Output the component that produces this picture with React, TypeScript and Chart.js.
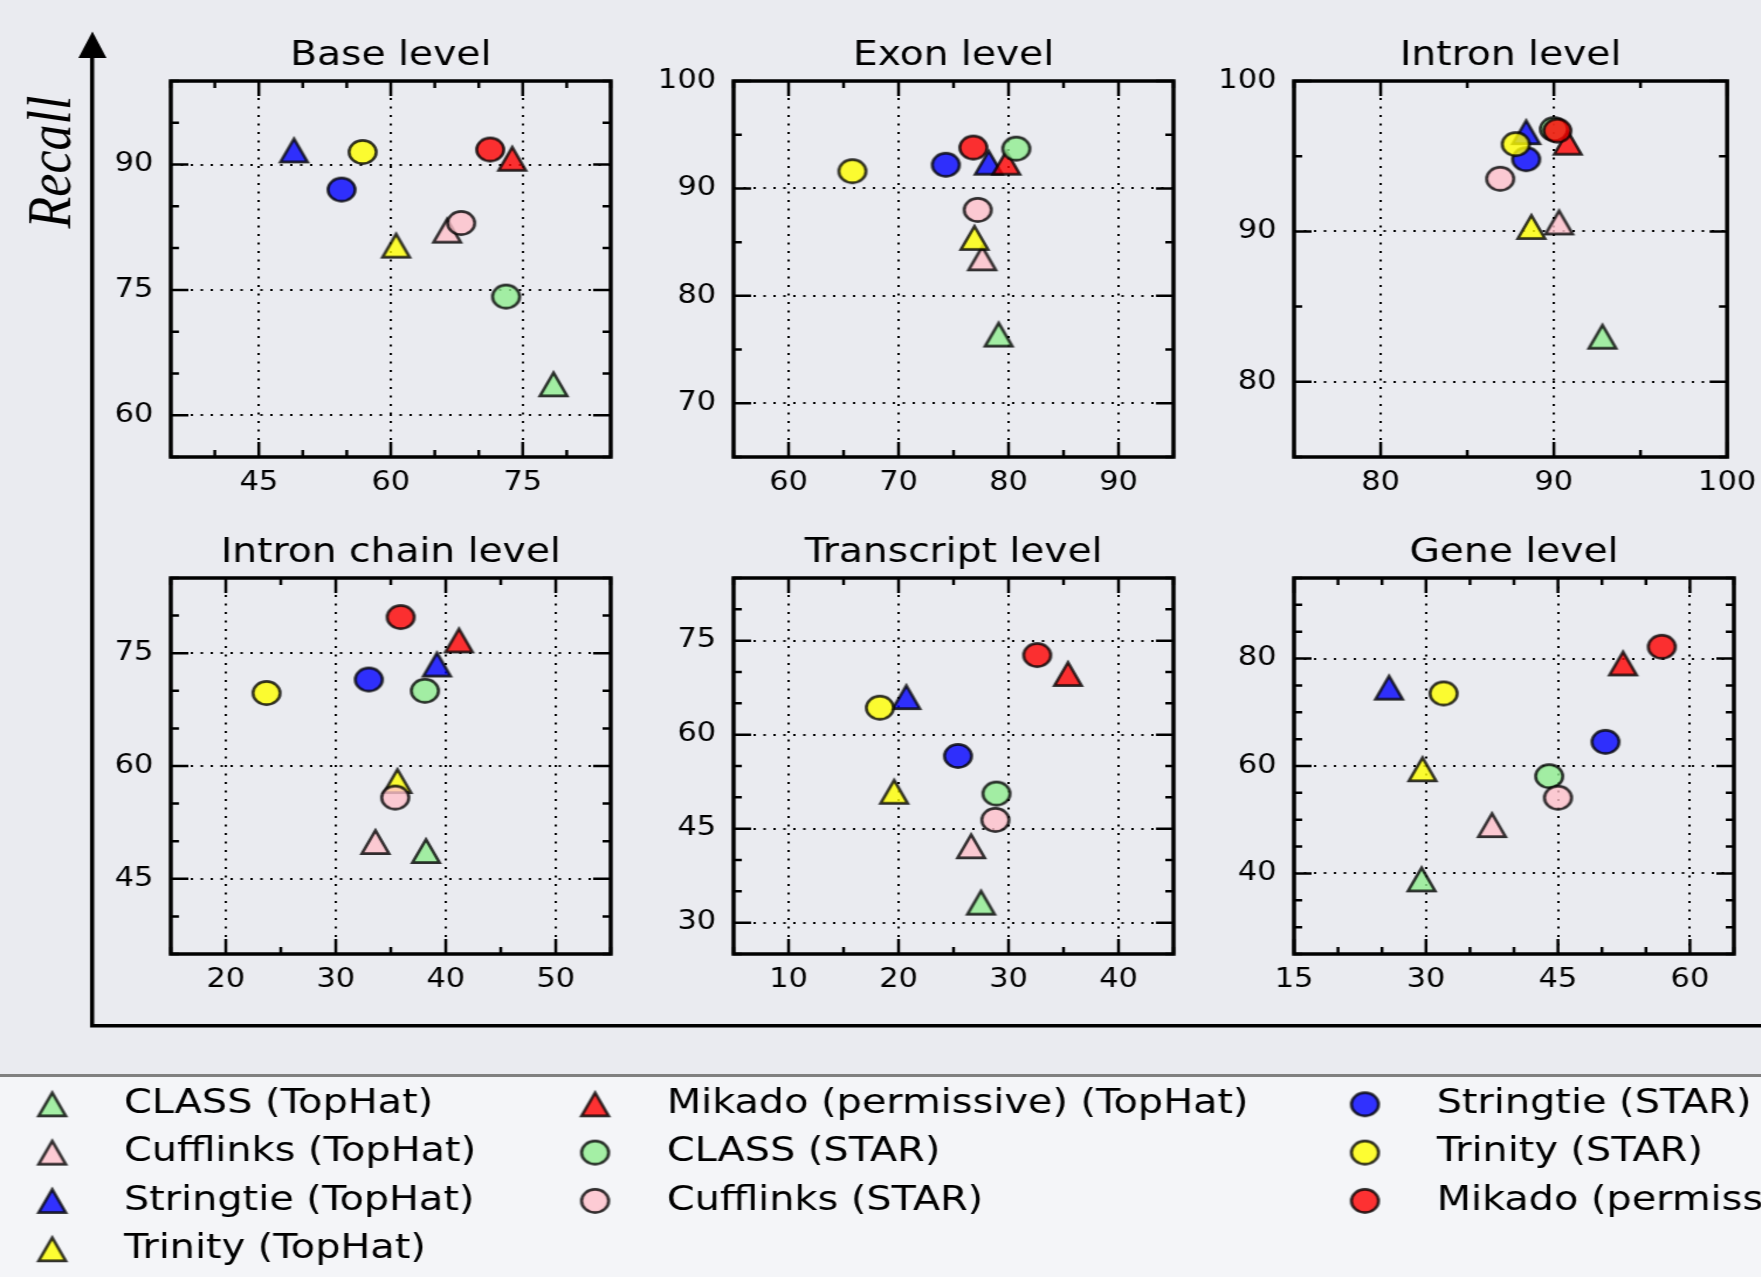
import React, { useEffect, useRef } from 'react';
import { Chart, registerables } from 'chart.js';

Chart.register(...registerables);
Chart.defaults.font.family = 'DejaVu Sans';
Chart.defaults.color = '#000';

// ---------------- data ----------------
const seriesNames = [
  'CLASS (TopHat)',
  'Cufflinks (TopHat)',
  'Stringtie (TopHat)',
  'Trinity (TopHat)',
  'Mikado (permissive) (TopHat)',
  'CLASS (STAR)',
  'Cufflinks (STAR)',
  'Stringtie (STAR)',
  'Trinity (STAR)',
  'Mikado (permissive) (STAR)',
];
const seriesColors = ['#90EE90', '#FFC0CB', '#0000FF', '#FFFF00', '#FF0000', '#90EE90', '#FFC0CB', '#0000FF', '#FFFF00', '#FF0000'];
const seriesMarkers = ['triangle', 'triangle', 'triangle', 'triangle', 'triangle', 'circle', 'circle', 'circle', 'circle', 'circle'];

const panelTitles = ['Base level', 'Exon level', 'Intron level', 'Intron chain level', 'Transcript level', 'Gene level'];

// precision (x) and recall (y), one value per series (series order above)
const basePrecision = [78.5, 66.4, 49.0, 60.6, 73.8, 73.1, 68.0, 54.4, 56.8, 71.3];
const baseRecall = [63.7, 82.1, 91.7, 80.3, 90.7, 74.2, 83.0, 87.0, 91.5, 91.8];
const exonPrecision = [79.1, 77.6, 78.2, 76.9, 79.8, 80.7, 77.2, 74.3, 65.8, 76.8];
const exonRecall = [76.4, 83.5, 92.4, 85.4, 92.4, 93.7, 88.0, 92.2, 91.6, 93.8];
const intronPrecision = [92.8, 90.3, 88.4, 88.7, 90.8, 90.0, 86.9, 88.4, 87.8, 90.2];
const intronRecall = [83.0, 90.6, 96.6, 90.3, 95.9, 96.8, 93.5, 94.8, 95.8, 96.7];
const chainPrecision = [38.2, 33.6, 39.2, 35.6, 41.2, 38.1, 35.4, 33.0, 23.7, 35.9];
const chainRecall = [48.7, 49.9, 73.5, 58.0, 76.7, 70.0, 55.8, 71.5, 69.7, 79.8];
const transcriptPrecision = [27.5, 26.6, 20.7, 19.6, 35.4, 28.9, 28.8, 25.4, 18.3, 32.6];
const transcriptRecall = [33.2, 42.2, 66.0, 50.9, 69.7, 50.6, 46.4, 56.6, 64.3, 72.7];
const genePrecision = [29.5, 37.5, 25.8, 29.6, 52.4, 44.0, 45.0, 50.4, 32.0, 56.8];
const geneRecall = [38.9, 49.0, 74.6, 59.4, 79.1, 58.1, 54.1, 64.5, 73.5, 82.2];

const panelPrecision = [basePrecision, exonPrecision, intronPrecision, chainPrecision, transcriptPrecision, genePrecision];
const panelRecall = [baseRecall, exonRecall, intronRecall, chainRecall, transcriptRecall, geneRecall];

const xRanges = [[35, 85], [55, 95], [75, 100], [15, 55], [5, 45], [15, 65]];
const yRanges = [[55, 100], [65, 100], [75, 100], [35, 85], [25, 85], [25, 95]];
const xTickLabels = [[45, 60, 75], [60, 70, 80, 90], [80, 90, 100], [20, 30, 40, 50], [10, 20, 30, 40], [15, 30, 45, 60]];
const yTickLabels = [[60, 75, 90], [70, 80, 90, 100], [80, 90, 100], [45, 60, 75], [30, 45, 60, 75], [40, 60, 80]];
const minorTickStep = 5;

const legendColumns = [[0, 1, 2, 3], [4, 5, 6], [7, 8, 9]];

// ---------------- layout (unstretched coordinates) ----------------
const PAGE_W = 1761;
const PAGE_H = 1277;
const STRETCH = 1.17;
const W = PAGE_W / STRETCH;
const FIG_BG = '#EAEBF0';
const LEGEND_BG = '#F4F5F8';

const boxLefts = [146.2, 626.5, 1106];
const boxTops = [81, 578];
const BOX = 376;
const YAXIS_W = 80;
const XAXIS_H = 60;
const TITLE_LH = 40;
const TITLE_PAD = 5;
const RIGHT_PAD = 30;

const LEGEND_FONT = 34;
const legendMarkerCenters = [45, 508.7, 1166.5];
const legendTop = 1073.2;
const legendPad = 14.3;
const legendBoxW = 88.6;
const legendWidths = [720, 940, 940];
const legendHeight = 240;

// ---------------- helpers ----------------
const markerCache: Record<string, HTMLCanvasElement> = {};
function markerImage(shape: string, color: string): HTMLCanvasElement {
  const key = shape + color;
  if (markerCache[key]) return markerCache[key];
  const c = document.createElement('canvas');
  c.width = 38;
  c.height = 38;
  const ctx = c.getContext('2d') as CanvasRenderingContext2D;
  const m = 19;
  const h = 11.6;
  ctx.beginPath();
  if (shape === 'circle') {
    ctx.arc(m, m, h, 0, Math.PI * 2);
  } else {
    ctx.moveTo(m, m - h);
    ctx.lineTo(m + h, m + h);
    ctx.lineTo(m - h, m + h);
    ctx.closePath();
  }
  ctx.globalAlpha = 0.8;
  ctx.fillStyle = color;
  ctx.fill();
  ctx.lineWidth = 2.6;
  ctx.lineJoin = 'miter';
  ctx.strokeStyle = '#000';
  ctx.stroke();
  markerCache[key] = c;
  return c;
}

const axesFramePlugin = {
  id: 'axesFrame',
  afterDraw(chart: any, _args: any, opts: any) {
    const { ctx, chartArea: a } = chart;
    const xs = chart.scales.x;
    const ys = chart.scales.y;
    const step = opts.step;
    const each = (scale: any, majors: number[], fn: (p: number, len: number) => void) => {
      const start = Math.ceil(scale.min / step - 1e-9) * step;
      for (let v = start; v <= scale.max + 1e-9; v += step) {
        const isMajor = majors.some((mv) => Math.abs(mv - v) < 1e-6);
        fn(scale.getPixelForValue(v), isMajor ? 15 : 7);
      }
    };
    ctx.save();
    ctx.strokeStyle = '#000';
    ctx.lineWidth = 2.5;
    ctx.beginPath();
    each(xs, opts.xMajor, (p, len) => {
      ctx.moveTo(p, a.bottom);
      ctx.lineTo(p, a.bottom - len);
      ctx.moveTo(p, a.top);
      ctx.lineTo(p, a.top + len);
    });
    each(ys, opts.yMajor, (p, len) => {
      ctx.moveTo(a.left, p);
      ctx.lineTo(a.left + len, p);
      ctx.moveTo(a.right, p);
      ctx.lineTo(a.right - len, p);
    });
    ctx.stroke();
    ctx.lineWidth = 3.5;
    ctx.strokeRect(a.left, a.top, a.right - a.left, a.bottom - a.top);
    ctx.restore();
  },
};

const recallArrowPlugin = {
  id: 'recallArrow',
  afterDraw(chart: any, _args: any, opts: any) {
    const { ctx, chartArea: a } = chart;
    const x = a.left;
    ctx.save();
    ctx.fillStyle = '#000';
    ctx.beginPath();
    ctx.moveTo(x, a.top - 25.5);
    ctx.lineTo(x + 12, a.top + 1);
    ctx.lineTo(x - 12, a.top + 1);
    ctx.closePath();
    ctx.fill();
    ctx.translate(x - 19, opts.labelY);
    ctx.rotate(-Math.PI / 2);
    ctx.font = 'italic 52px "Liberation Serif"';
    ctx.textAlign = 'center';
    ctx.textBaseline = 'alphabetic';
    ctx.fillText(opts.text, 0, 0);
    ctx.restore();
  },
};

// ---------------- components ----------------
function PanelChart({ index }: { index: number }) {
  const ref = useRef<HTMLCanvasElement | null>(null);
  const col = index % 3;
  const row = Math.floor(index / 3);
  const width = YAXIS_W + BOX + RIGHT_PAD;
  const height = TITLE_LH + TITLE_PAD + BOX + XAXIS_H;
  const left = boxLefts[col] - YAXIS_W;
  const top = boxTops[row] - TITLE_LH - TITLE_PAD;

  useEffect(() => {
    const tickFont = { family: 'DejaVu Sans', size: 26 };
    const chart = new Chart(ref.current as HTMLCanvasElement, {
      type: 'scatter',
      data: {
        datasets: seriesNames.map((name, s) => ({
          label: name,
          data: [{ x: panelPrecision[index][s], y: panelRecall[index][s] }],
          pointStyle: markerImage(seriesMarkers[s], seriesColors[s]) as any,
          order: -s,
          clip: false as any,
        })),
      },
      options: {
        animation: false,
        responsive: false,
        devicePixelRatio: 1,
        events: [],
        layout: { padding: { left: 0, top: 0, right: RIGHT_PAD, bottom: 0 } },
        plugins: {
          legend: { display: false },
          tooltip: { enabled: false },
          title: {
            display: true,
            text: panelTitles[index],
            color: '#000',
            fullSize: false,
            font: { family: 'DejaVu Sans', size: 33.5, weight: 'normal', lineHeight: TITLE_LH + 'px' } as any,
            padding: { top: 0, bottom: TITLE_PAD },
          },
          axesFrame: { xMajor: xTickLabels[index], yMajor: yTickLabels[index], step: minorTickStep },
        } as any,
        scales: {
          x: {
            type: 'linear',
            min: xRanges[index][0],
            max: xRanges[index][1],
            bounds: 'data',
            z: 1,
            afterBuildTicks: (s: any) => {
              s.ticks = xTickLabels[index].map((v) => ({ value: v }));
            },
            afterFit: (s: any) => {
              s.height = XAXIS_H;
            },
            ticks: { font: tickFont, color: '#000', padding: 11, maxRotation: 0, autoSkip: false, callback: (v: any) => String(v) },
            grid: { color: '#000', lineWidth: 2, drawTicks: false },
            border: { display: false, dash: [2, 6.5] },
          },
          y: {
            type: 'linear',
            min: yRanges[index][0],
            max: yRanges[index][1],
            bounds: 'data',
            z: 1,
            afterBuildTicks: (s: any) => {
              s.ticks = yTickLabels[index].map((v) => ({ value: v }));
            },
            afterFit: (s: any) => {
              s.width = YAXIS_W;
            },
            ticks: { font: tickFont, color: '#000', padding: 15, autoSkip: false, callback: (v: any) => String(v) },
            grid: { color: '#000', lineWidth: 2, drawTicks: false },
            border: { display: false, dash: [2, 6.5] },
          },
        } as any,
      },
      plugins: [axesFramePlugin as any],
    });
    return () => chart.destroy();
  }, [index]);

  return <canvas ref={ref} width={width} height={height} style={{ position: 'absolute', left, top }} />;
}

function FrameChart() {
  const ref = useRef<HTMLCanvasElement | null>(null);
  const height = 1040;
  useEffect(() => {
    const chart = new Chart(ref.current as HTMLCanvasElement, {
      type: 'scatter',
      data: { datasets: [] },
      options: {
        animation: false,
        responsive: false,
        devicePixelRatio: 1,
        events: [],
        layout: { padding: { top: 57, left: 0, right: 0, bottom: 0 } },
        plugins: {
          legend: { display: false },
          tooltip: { enabled: false },
          recallArrow: { text: 'Recall', labelY: 162 },
        } as any,
        scales: {
          x: {
            type: 'linear', min: 0, max: 1,
            ticks: { display: false },
            grid: { display: false },
            border: { display: true, color: '#000', width: 3.5 },
            afterFit: (s: any) => { s.height = 14; },
          },
          y: {
            type: 'linear', min: 0, max: 1,
            ticks: { display: false },
            grid: { display: false },
            border: { display: true, color: '#000', width: 3.5 },
            afterFit: (s: any) => { s.width = 79; },
          },
        } as any,
      },
      plugins: [recallArrowPlugin as any],
    });
    return () => chart.destroy();
  }, []);
  return <canvas ref={ref} width={Math.ceil(W)} height={height} style={{ position: 'absolute', left: 0, top: 0 }} />;
}

function LegendColumn({ column }: { column: number }) {
  const ref = useRef<HTMLCanvasElement | null>(null);
  const width = legendWidths[column];
  const left = legendMarkerCenters[column] - legendPad - legendBoxW / 2;
  useEffect(() => {
    const chart = new Chart(ref.current as HTMLCanvasElement, {
      type: 'scatter',
      data: {
        datasets: legendColumns[column].map((s) => ({
          label: seriesNames[s],
          data: [],
          pointStyle: markerImage(seriesMarkers[s], seriesColors[s]) as any,
        })),
      },
      options: {
        animation: false,
        responsive: false,
        devicePixelRatio: 1,
        events: [],
        scales: { x: { display: false }, y: { display: false } },
        plugins: {
          tooltip: { enabled: false },
          title: { display: false },
          legend: {
            display: true,
            position: 'left',
            align: 'start',
            maxWidth: 2000,
            labels: {
              usePointStyle: true,
              pointStyleWidth: legendBoxW,
              padding: legendPad,
              color: '#000',
              font: { family: 'DejaVu Sans', size: LEGEND_FONT },
            },
          },
        } as any,
      },
    });
    return () => chart.destroy();
  }, [column]);
  return <canvas ref={ref} width={width} height={legendHeight} style={{ position: 'absolute', left, top: legendTop }} />;
}

export default function App() {
  return (
    <div
      style={{
        position: 'fixed',
        left: 0,
        top: 0,
        width: PAGE_W,
        height: PAGE_H,
        overflow: 'hidden',
        background: FIG_BG,
      }}
    >
      <div
        style={{
          position: 'absolute',
          left: 0,
          top: 0,
          width: W,
          height: PAGE_H,
          transform: `scaleX(${STRETCH})`,
          transformOrigin: '0 0',
        }}
      >
        <div
          style={{
            position: 'absolute',
            left: -10,
            top: 1073.5,
            width: W + 20,
            height: 220,
            background: LEGEND_BG,
            borderTop: '3px solid #808080',
          }}
        />
        <FrameChart />
        {panelTitles.map((_, i) => (
          <PanelChart key={i} index={i} />
        ))}
        {legendColumns.map((_, c) => (
          <LegendColumn key={c} column={c} />
        ))}
      </div>
    </div>
  );
}
